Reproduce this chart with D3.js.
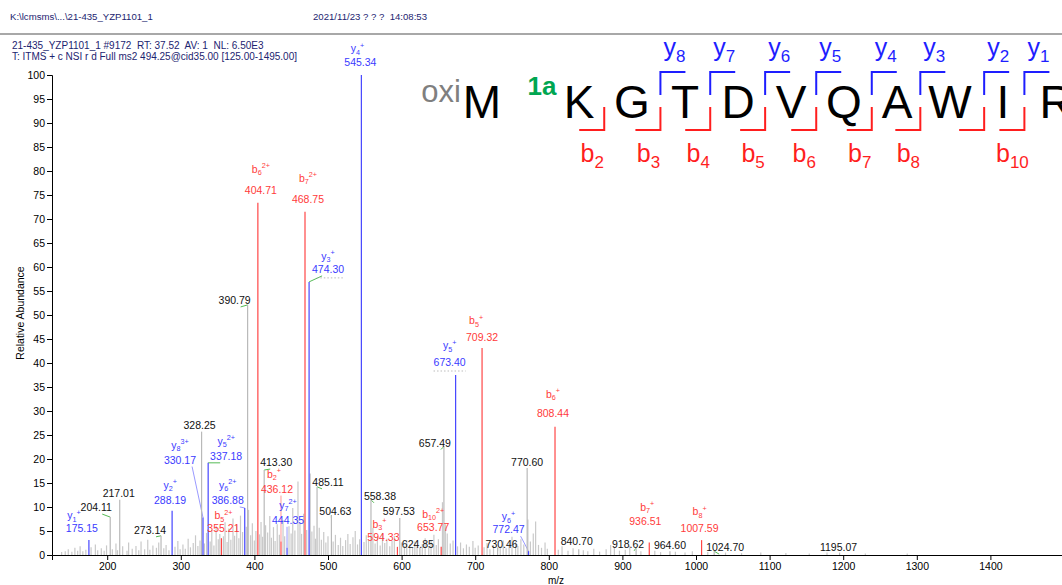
<!DOCTYPE html>
<html>
<head>
<meta charset="utf-8">
<script src="https://cdn.jsdelivr.net/npm/d3@7"></script>
<style>
  body { margin: 0; background: #fff; }
  svg { display: block; font-family: Arial, "Liberation Sans", sans-serif; }
  .pre { white-space: pre; }
</style>
</head>
<body>
<svg id="chart" width="1062" height="585"></svg>
<script>
// ---- header text ----
const filePath   = "K:\\lcmsms\\...\\21-435_YZP1101_1";
const acqStamp   = "2021/11/23 ? ? ?  14:08:53";
const scanLine   = "21-435_YZP1101_1 #9172  RT: 37.52  AV: 1  NL: 6.50E3";
const filterLine = "T: ITMS + c NSI r d Full ms2 494.25@cid35.00 [125.00-1495.00]";

// ---- axis ticks ----
const xTickValues = [200, 300, 400, 500, 600, 700, 800, 900, 1000, 1100, 1200, 1300, 1400];
const yTickValues = [0, 5, 10, 15, 20, 25, 30, 35, 40, 45, 50, 55, 60, 65, 70, 75, 80, 85, 90, 95, 100];

// ---- assigned fragment ions ----
const ionMz     = [175.15, 288.19, 330.17, 337.18, 386.88, 444.35, 474.30, 545.34, 673.40, 772.47,
                   355.21, 404.71, 436.12, 468.75, 594.33, 653.77, 709.32, 808.44, 936.51, 1007.59];
const ionAbund  = [3.1, 9.2, 7.8, 19.2, 9.8, 1.5, 56.9, 100, 37.5, 0.8,
                   3.5, 73.4, 2.8, 71.5, 1.7, 1.7, 43.1, 26.7, 2.6, 3.1];
const ionSeries = ["y","y","y","y","y","y","y","y","y","y",
                   "b","b","b","b","b","b","b","b","b","b"];
const ionIndex  = [1, 2, 8, 5, 6, 7, 3, 4, 5, 6,
                   5, 6, 2, 7, 3, 10, 5, 6, 7, 8];
const ionCharge = ["+","+","3+","2+","2+","2+","+","+","+","+",
                   "2+","2+","+","2+","+","2+","+","+","+","+"];

// ---- unassigned, labelled peaks ----
const peakMz    = [204.11, 217.01, 273.14, 328.25, 390.79, 413.30, 485.11, 504.63, 558.38, 597.53,
                   624.85, 657.49, 730.46, 770.60, 840.70, 918.62, 964.60, 1024.70, 1195.07];
const peakAbund = [7.9, 11.5, 4.0, 25.7, 52.1, 17.7, 14.2, 8.3, 11.5, 7.7,
                   1.5, 22.6, 1.5, 18.1, 1.2, 1.5, 0.8, 0.8, 0.5];

// ---- unlabelled background peaks ----
const minorMz = [138.1,143.0,147.1,152.0,156.1,159.9,163.2,166.9,171.0,178.1,183.9,187.1,192.0,195.9,199.1,
  207.0,211.9,214.0,221.0,226.9,229.1,234.0,239.1,242.9,246.0,250.9,255.1,258.0,262.1,266.9,270.0,276.9,280.0,283.9,292.1,296.0,299.1,
  302.9,306.1,310.0,313.1,316.9,320.0,323.2,326.1,332.1,335.0,339.9,342.1,345.0,348.0,350.9,353.0,357.9,360.1,362.9,365.1,368.0,370.9,373.1,376.0,378.9,381.1,383.9,389.0,392.0,394.9,397.2,399.9,
  402.1,406.9,409.0,411.1,415.2,418.0,420.9,423.1,425.9,428.1,431.0,433.9,438.9,441.1,447.0,449.9,452.1,455.0,459.2,461.9,464.1,466.9,471.0,475.8,478.1,481.0,483.0,488.1,491.0,494.2,497.1,500.0,
  507.0,510.1,513.9,517.0,520.1,523.9,527.0,530.1,533.9,537.0,540.1,543.0,548.9,552.0,555.1,561.0,564.0,567.1,570.9,574.0,577.1,580.0,583.9,587.0,590.1,600.0,
  603.9,607.0,611.1,614.9,618.0,621.0,628.1,632.0,636.9,640.0,643.9,647.1,650.0,655.5,659.4,662.0,666.1,669.9,676.0,680.1,684.0,688.1,692.0,696.9,700.0,
  704.1,712.0,716.1,720.0,724.9,734.0,738.1,742.0,746.1,750.0,754.9,758.0,762.1,766.0,771.6,775.0,778.9,782.1,786.0,790.1,794.9,798.0,
  812.9,818.0,826.1,833.0,846.9,853.0,861.1,869.0,877.9,884.0,889.1,896.0,903.9,910.0,925.1,944.0,951.9,972.0,985.1,995.0,
  1016.0,1040.1,1061.9,1088.0,1122.1,1153.9,1178.0,1230.1,1287.0];
const minorAbund = [0.6,0.8,1.2,0.7,1.5,0.9,1.8,0.8,1.1,1.6,2.2,1.0,1.4,0.9,2.0,
  1.2,2.4,1.0,1.8,0.9,2.6,1.3,1.9,1.0,2.8,1.2,3.2,1.1,2.0,1.5,2.6,1.4,2.1,1.0,1.7,2.9,1.2,
  2.2,1.3,3.4,1.6,2.5,4.1,1.9,3.0,2.4,4.6,2.8,5.2,2.0,6.1,3.3,4.4,3.9,6.8,2.7,5.5,3.2,7.6,4.0,6.3,3.5,8.2,4.8,5.9,9.4,4.1,6.6,3.0,
  5.0,4.3,6.9,3.8,6.2,4.7,8.1,3.6,5.8,2.9,6.4,4.2,7.3,3.9,6.0,4.5,9.8,5.1,15.3,6.7,4.4,8.6,5.2,17.0,4.9,6.1,3.4,5.7,3.2,4.8,2.6,3.9,
  2.8,4.2,2.1,3.6,1.9,3.1,4.4,2.3,3.7,5.0,2.2,3.3,2.7,4.1,3.0,5.6,2.4,3.8,2.0,4.6,2.5,3.4,1.8,2.9,4.0,2.6,
  1.9,3.1,2.2,1.5,2.8,1.7,2.3,3.5,1.6,2.9,4.2,2.1,3.3,11.0,6.4,4.5,2.4,3.0,1.8,2.6,1.4,2.2,1.7,2.9,1.5,
  2.0,1.6,2.5,1.2,2.1,1.8,3.0,1.4,2.4,3.8,2.7,1.9,3.3,2.2,7.4,2.8,4.5,7.0,2.1,1.5,2.6,1.3,
  1.1,1.8,0.9,1.4,1.0,0.8,1.3,0.7,1.2,2.1,1.6,0.9,1.1,1.9,0.8,0.9,0.6,0.7,0.5,0.8,
  0.6,0.5,0.4,0.5,0.4,0.3,0.5,0.3,0.3];

// ---- peptide sequence ----
const nTermMod   = "oxi";
const nTermRes   = "M";
const siteMod    = "1a";
const residues   = ["K","G","T","D","V","Q","A","W","I","R"];
const yFragments = [8, 7, 6, 5, 4, 3, 2, 1];
const bFragments = [2, 3, 4, 5, 6, 7, 8, 9, 10];
const bLabelled  = [2, 3, 4, 5, 6, 7, 8, 10];

// ---- label placement: [dx, dy, connector, nameGap, nameDx] relative to the peak top, px ----
const labelLayout = {
  "175.15":[-7,-8,null,13,-8], "204.11":[-14,-6,"g"], "217.01":[-1,-3], "273.14":[-11,-2,"g"],
  "288.19":[-2,-7], "328.25":[-2,-3], "330.17":[-23,-54,"c"], "337.18":[18,-3,"g"],
  "386.88":[-17,-4,"c"], "355.21":[2,-6,null,13], "390.79":[-13,-1,"g"], "404.71":[3,-9,null,21],
  "413.30":[12,-4,"g"], "436.12":[-4,-49,"c",15,-3], "444.35":[1,-24,"c"], "468.75":[3,-9,null,21],
  "474.30":[19,-9,"gd",13], "485.11":[11,-1,"g"], "504.63":[4,0,"g"], "545.34":[-1,-9,null,14,-3],
  "558.38":[9,0,"g"], "594.33":[-14,-6,null,13,-4], "597.53":[-1,-3], "624.85":[-2,0],
  "653.77":[-8,-16,null,13], "657.49":[-9,0,"g"], "673.40":[-6,-9,"d",17], "709.32":[0,-7,null,17,-6],
  "730.46":[4,0,"g"], "772.47":[-20,-18,"c",13], "770.60":[0,-2], "808.44":[-2,-10,null,19],
  "840.70":[-2,-4], "918.62":[-8,0,"g"], "936.51":[-4,-18,null,14,2], "964.60":[0,-2],
  "1007.59":[-2,-8,null,17], "1024.70":[11,0,"g"], "1195.07":[-1,-2]
};

// ---- colours ----
const C = {
  header: "#1c2470", rule: "#a8a8a8", axis: "#000",
  minor: "#c9c9c9", plain: "#b9b9b9", plainText: "#111",
  y: "#4646ff", b: "#ff4646", yText: "#3a3aff", bText: "#ff3a3a",
  link: "#55bb55", seqY: "#1e1eff", seqB: "#ff1e1e", mod: "#00a651", oxi: "#7f7f7f"
};

const svg = d3.select("#chart");
const W = 1062, H = 585;

// ---- header ----
const hdr = svg.append("g").attr("fill", C.header).attr("class", "pre");
hdr.append("text").attr("x", 10).attr("y", 20).attr("font-size", 9.6).text(filePath);
hdr.append("text").attr("x", 313).attr("y", 20).attr("font-size", 9.6)
  .attr("xml:space", "preserve").text(acqStamp);
svg.append("line").attr("x1", 0).attr("x2", W).attr("y1", 34).attr("y2", 34)
  .attr("stroke", C.rule).attr("stroke-width", 2);
hdr.append("text").attr("x", 12).attr("y", 49).attr("font-size", 10)
  .attr("xml:space", "preserve").text(scanLine);
hdr.append("text").attr("x", 12).attr("y", 60).attr("font-size", 10)
  .attr("xml:space", "preserve").text(filterLine);

// ---- scales ----
const x = d3.scaleLinear().domain([125, 1500]).range([52, 1064]);
const y = d3.scaleLinear().domain([0, 100]).range([555, 75]);

// ---- axes ----
const gx = svg.append("g").attr("transform", `translate(0,${y(0)})`);
gx.call(d3.axisBottom(x).tickValues(d3.range(130, 1501, 10)).tickSize(2.5).tickFormat(""));
gx.call(d3.axisBottom(x).tickValues(xTickValues).tickSize(5).tickPadding(3).tickFormat(d3.format("d")));
const gy = svg.append("g").attr("transform", `translate(${x(125)},0)`);
gy.call(d3.axisLeft(y).tickValues(d3.range(0, 101, 1)).tickSize(2.5).tickFormat(""));
gy.call(d3.axisLeft(y).tickValues(yTickValues).tickSize(5).tickPadding(2).tickFormat(d3.format("d")));
svg.selectAll(".tick text").attr("font-size", 10.5).attr("font-family", "Arial, 'Liberation Sans', sans-serif").attr("fill", "#000");
svg.selectAll(".domain, .tick line").attr("stroke", C.axis);

svg.append("text").attr("transform", `translate(24,${y(50) - 2}) rotate(-90)`)
  .attr("text-anchor", "middle").attr("font-size", 10.5).text("Relative Abundance");
svg.append("text").attr("x", 556).attr("y", 584).attr("text-anchor", "middle")
  .attr("font-size", 10).text("m/z");

// ---- stick spectrum ----
const sticks = svg.append("g").attr("stroke-width", 1.2);
sticks.selectAll("line.minor").data(d3.zip(minorMz, minorAbund)).join("line")
  .attr("class", "minor").attr("stroke", C.minor)
  .attr("x1", d => x(d[0])).attr("x2", d => x(d[0]))
  .attr("y1", y(0)).attr("y2", d => y(d[1]));

const plain = peakMz.map((mz, i) => ({ mz, ab: peakAbund[i], kind: "plain" }));
const ions = ionMz.map((mz, i) => ({ mz, ab: ionAbund[i], kind: ionSeries[i],
  idx: ionIndex[i], z: ionCharge[i] }));

sticks.selectAll("line.plain").data(plain).join("line")
  .attr("class", "plain").attr("stroke", C.plain)
  .attr("x1", d => x(d.mz)).attr("x2", d => x(d.mz))
  .attr("y1", y(0)).attr("y2", d => y(d.ab));
sticks.selectAll("line.ion").data(ions).join("line")
  .attr("class", "ion").attr("stroke", d => C[d.kind])
  .attr("x1", d => x(d.mz)).attr("x2", d => x(d.mz))
  .attr("y1", y(0)).attr("y2", d => y(d.ab));

// ---- peak labels ----
const labels = svg.append("g").attr("font-size", 10.5).attr("text-anchor", "middle");
const links = svg.insert("g", "g").attr("stroke-width", 1);

[...plain, ...ions].forEach(d => {
  const key = d.mz.toFixed(2);
  const lay = labelLayout[key] || [0, -8];
  const px = x(d.mz), py = y(d.ab);
  const cx = px + lay[0], base = py + lay[1];
  const fill = d.kind === "plain" ? C.plainText : C[d.kind + "Text"];
  const num = labels.append("text").attr("x", cx).attr("y", base).attr("fill", fill).text(key);
  const w = num.node().getComputedTextLength();

  if (d.kind !== "plain") {
    const gap = lay[3] || 15;
    const name = labels.append("text").attr("x", cx + (lay[4] || 0)).attr("y", base - gap).attr("fill", fill);
    name.append("tspan").text(d.kind);
    name.append("tspan").attr("font-size", 7.2).attr("dy", 2.5).text(d.idx);
    name.append("tspan").attr("font-size", 7.2).attr("dy", -7).text(d.z);
  }

  const type = lay[2];
  if (type === "g" || type === "gd") {
    const sx = cx + Math.max(-6, Math.min(6, px - cx));
    links.append("line").attr("stroke", C.link)
      .attr("x1", px).attr("y1", py).attr("x2", sx).attr("y2", base + 3);
  }
  if (type === "gd" || type === "d") {
    links.append("line").attr("stroke", "#bbbbbb").attr("stroke-dasharray", "1.5,2")
      .attr("x1", cx - w / 2 + (type === "gd" ? w * 0.15 : 0)).attr("x2", cx + w / 2)
      .attr("y1", base + 5).attr("y2", base + 5);
  }
  if (type === "c") {
    const sx = Math.max(cx - w / 2 + 4, Math.min(cx + w / 2 - 4, px));
    links.append("line").attr("stroke", C[d.kind]).attr("stroke-opacity", 0.55)
      .attr("x1", px).attr("y1", py).attr("x2", sx).attr("y2", base + 3);
  }
});

// ---- peptide sequence with fragment brackets ----
const seq = svg.append("g");
const resX = d3.scaleLinear().domain([0, residues.length - 1]).range([579, 1056]);
const resBase = 118, resSize = 46;

seq.append("text").attr("x", 461).attr("y", resBase - 16).attr("text-anchor", "end")
  .attr("font-size", 31).attr("fill", C.oxi).text(nTermMod);
seq.append("text").attr("x", 482).attr("y", resBase).attr("text-anchor", "middle")
  .attr("font-size", resSize).attr("fill", "#000").text(nTermRes);
seq.append("text").attr("x", 542).attr("y", 95).attr("text-anchor", "middle")
  .attr("font-size", 26).attr("font-weight", "bold").attr("fill", C.mod).text(siteMod);

const edges = residues.map((r, i) => {
  const t = seq.append("text").attr("x", resX(i)).attr("y", resBase).attr("text-anchor", "middle")
    .attr("font-size", resSize).attr("fill", "#000").text(r);
  const w = t.node().getComputedTextLength();
  return [resX(i) - w / 2, resX(i) + w / 2];
});
// boundary between residue i and i+1
const cut = i => (edges[i][1] + edges[i + 1][0]) / 2;

function fragLabel(g, cx, base, letter, n, color) {
  const t = g.append("text").attr("x", cx).attr("y", base).attr("text-anchor", "middle")
    .attr("font-size", 25).attr("fill", color);
  t.append("tspan").text(letter);
  t.append("tspan").attr("font-size", 17).attr("dy", 6).text(n);
}

yFragments.forEach(n => {
  const i = residues.length - n - 1;           // cut after residue i
  const bx = cut(i);
  seq.append("path").attr("fill", "none").attr("stroke", C.seqY).attr("stroke-width", 2)
    .attr("d", `M${bx},95 L${bx},72 L${bx + 25},72`);
  fragLabel(seq, bx + 14, 56, "y", n, C.seqY);
});
bFragments.forEach(n => {
  const i = n - 2;
  const bx = cut(i);
  seq.append("path").attr("fill", "none").attr("stroke", C.seqB).attr("stroke-width", 2)
    .attr("d", `M${bx},107 L${bx},130 L${bx - 25},130`);
  if (bLabelled.includes(n)) fragLabel(seq, bx - 12, 162, "b", n, C.seqB);
});
</script>
</body>
</html>
